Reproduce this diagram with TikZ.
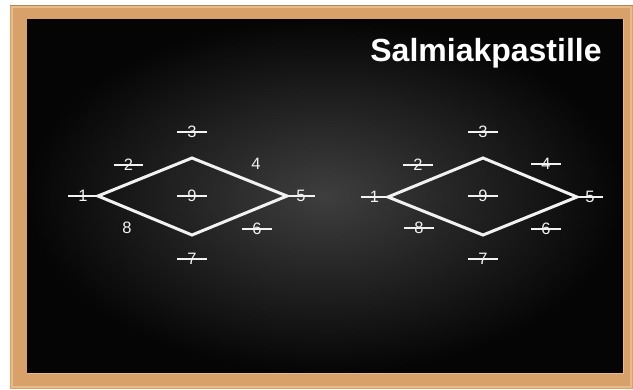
\documentclass[tikz,border=0pt]{standalone}
\usepackage{fontspec}
\setmainfont{Liberation Sans}
\begin{document}
\begin{tikzpicture}[x=1pt,y=-1pt,
  edge/.style={draw=chalk,line width=3pt,line join=miter},
  num/.style={text=chalk,font=\fontsize{16.5}{16.5}\selectfont,inner sep=0pt,minimum width=29pt},
  strike/.style={draw=chalk,line width=2pt},
  title/.style={text=white,font=\fontsize{32}{32}\selectfont\bfseries,inner sep=0pt}]
\definecolor{chalk}{HTML}{F2F2F2}
\definecolor{wood}{HTML}{D8A16A}
\definecolor{woodlight}{HTML}{E6BC8C}
\definecolor{wooddark}{HTML}{B88450}
\definecolor{boardc}{HTML}{3E3E3E}
\definecolor{boarde}{HTML}{050505}
\useasboundingbox (0,0) rectangle (633,389);
\fill[white] (0,0) rectangle (633,389);
% frame
\fill[wood] (10,5) rectangle (633,389);
\draw[woodlight,line width=1.5pt] (12,7) rectangle (631,387);
\draw[wooddark,line width=1pt] (10,5) -- (633,5);
% board
\shade[inner color=boardc,outer color=boarde] (27,19) rectangle (623,373);
\draw[woodlight,line width=1pt] (27,373) -- (623,373) -- (623,19);
% title
\node[title] (t) at (486,53) {Salmiakpastille};
% ---------- left diamond ----------
\coordinate (aL) at (98,196);
\coordinate (aT) at (192,158);
\coordinate (aR) at (287,196);
\coordinate (aB) at (192,235);
\draw[edge] (aL) -- (aT) -- (aR) -- (aB) -- cycle;
\node[num] (a1) at (83,196) {1};
\node[num] (a2) at (128.5,165) {2};
\node[num] (a3) at (192,132) {3};
\node[num] (a4) at (256,164) {4};
\node[num,minimum width=28pt] (a5) at (301,196) {5};
\node[num] (a6) at (257,229) {6};
\node[num] (a7) at (192,259) {7};
\node[num] (a8) at (127,228) {8};
\node[num] (a9) at (192,196) {9};
\draw[strike] (a1.west) -- (aL);
\draw[strike] (aR) -- (a5.east);
\foreach \n in {a2,a3,a6,a7,a9} \draw[strike] (\n.west) -- (\n.east);
% ---------- right diamond ----------
\coordinate (bL) at (388,197);
\coordinate (bT) at (483,158);
\coordinate (bR) at (577,197);
\coordinate (bB) at (483,235);
\draw[edge] (bL) -- (bT) -- (bR) -- (bB) -- cycle;
\node[num,minimum width=27pt] (b1) at (374.5,197) {1};
\node[num] (b2) at (418,165) {2};
\node[num] (b3) at (483,132) {3};
\node[num] (b4) at (546,164) {4};
\node[num,minimum width=26pt] (b5) at (590,197) {5};
\node[num] (b6) at (546,229) {6};
\node[num] (b7) at (483,259) {7};
\node[num] (b8) at (419,228) {8};
\node[num] (b9) at (483,196) {9};
\draw[strike] (b1.west) -- (bL);
\draw[strike] (bR) -- (b5.east);
\foreach \n in {b2,b3,b4,b6,b7,b8,b9} \draw[strike] (\n.west) -- (\n.east);
\end{tikzpicture}
\end{document}
